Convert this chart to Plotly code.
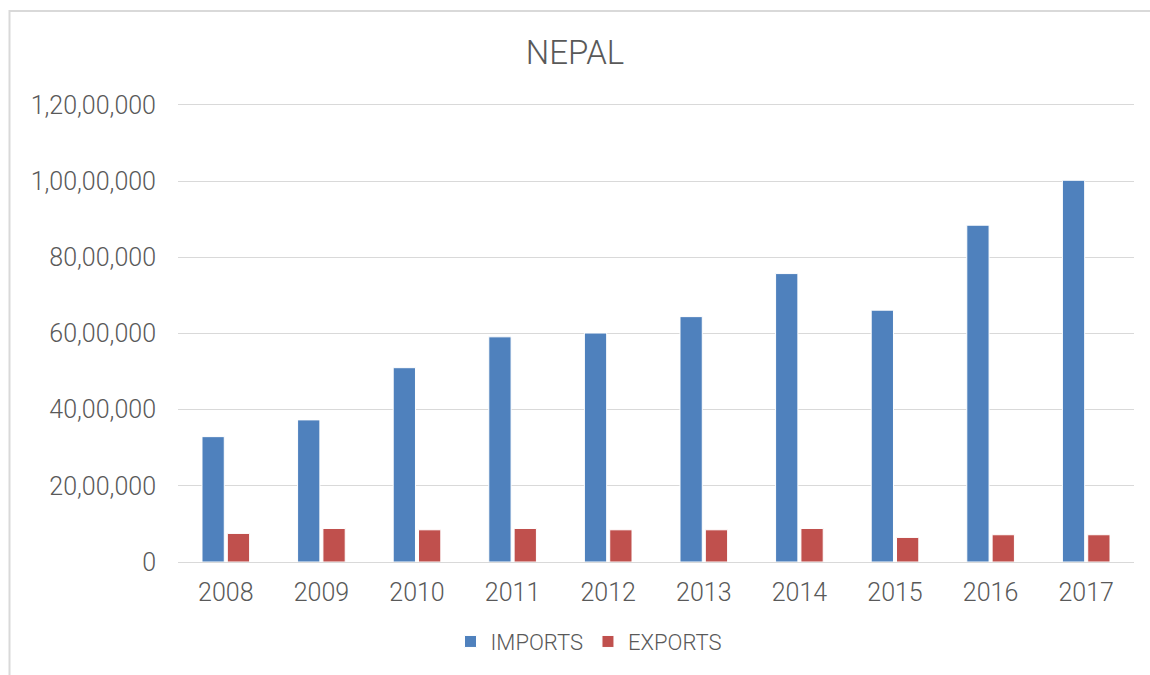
import plotly.graph_objects as go

years = ["2008", "2009", "2010", "2011", "2012", "2013", "2014", "2015", "2016", "2017"]
imports = [3290000, 3730000, 5100000, 5910000, 6010000, 6440000, 7570000, 6610000, 8840000, 10020000]
exports = [750000, 880000, 845000, 880000, 845000, 845000, 880000, 645000, 715000, 715000]
y_tickvals = [0, 2000000, 4000000, 6000000, 8000000, 10000000, 12000000]
y_ticktext = ["0", "20,00,000", "40,00,000", "60,00,000", "80,00,000", "1,00,00,000", "1,20,00,000"]

FONT = "Roboto"
GREY = "#595959"

fig = go.Figure()
fig.add_trace(go.Bar(x=years, y=imports, name="IMPORTS",
                     marker=dict(color="#4F81BD", line=dict(color="white", width=1))))
fig.add_trace(go.Bar(x=years, y=exports, name="EXPORTS",
                     marker=dict(color="#C0504D", line=dict(color="white", width=1))))

YMAX = 12100000
L, R, T, B = 178, 16, 101, 111
W, H = 1150, 675
pw, ph = W - L - R, H - T - B

fig.update_layout(
    width=W, height=H,
    margin=dict(l=L, r=R, t=T, b=B),
    paper_bgcolor="white", plot_bgcolor="white",
    barmode="group", bargap=0.47, bargroupgap=0.12,
    title=dict(text="NEPAL", x=0.5, xanchor="center", y=1 - 52 / H, yanchor="middle",
               font=dict(family=FONT, size=33, color=GREY, weight=300)),
    font=dict(family=FONT, color=GREY),
    legend=dict(orientation="h", x=(589 - L) / pw, xanchor="center",
                y=-(644 - (T + ph)) / ph, yanchor="middle",
                font=dict(family=FONT, size=22, color=GREY, weight=300),
                itemwidth=30, traceorder="normal"),
    xaxis=dict(showgrid=False, showline=False, zeroline=False,
               ticks="outside", ticklen=8, tickcolor="rgba(0,0,0,0)",
               tickfont=dict(family=FONT, size=25, color=GREY, weight=300)),
    yaxis=dict(range=[0, YMAX], tickvals=y_tickvals, ticktext=y_ticktext,
               showgrid=True, gridcolor="#d9d9d9", gridwidth=1,
               zeroline=True, zerolinecolor="#d9d9d9", zerolinewidth=1,
               showline=False, ticks="outside", ticklen=16, tickcolor="rgba(0,0,0,0)",
               tickfont=dict(family=FONT, size=25, color=GREY, weight=300)),
    shapes=[dict(type="rect", xref="paper", yref="paper",
                 x0=(9.5 - L) / pw, x1=(1160 - L) / pw,
                 y0=-(690 - (T + ph)) / ph, y1=1 + (T - 10.5) / ph,
                 line=dict(color="#d9d9d9", width=2), fillcolor="rgba(0,0,0,0)",
                 layer="below")],
)

fig.write_html("out.html", config={"displayModeBar": False},
               post_script="document.body.style.margin='0';document.body.style.overflow='hidden';")
